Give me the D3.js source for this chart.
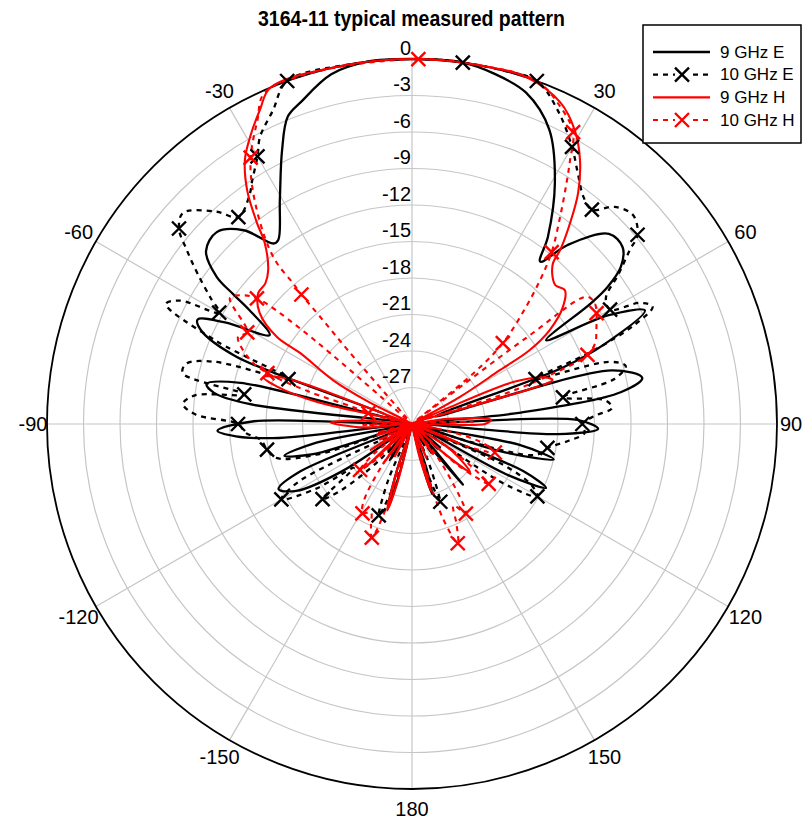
<!DOCTYPE html>
<html><head><meta charset="utf-8">
<script src="https://cdn.jsdelivr.net/npm/d3@7/dist/d3.min.js"></script>
<style>
body{margin:0;background:#fff}
text{font-family:"Liberation Sans",Arial,Helvetica,sans-serif;fill:#000}
</style></head>
<body><svg id="chart" width="804" height="824"></svg>
<script>
// ---------- data ----------
const chartTitle = "3164-11 typical measured pattern";
const seriesNames = ["9 GHz E", "10 GHz E", "9 GHz H", "10 GHz H"];
const angleTicks = [-150, -120, -90, -60, -30, 30, 60, 90, 120, 150, 180];
const spokeAngles = [-180, -150, -120, -90, -60, -30, 0, 30, 60, 90, 120, 150];
const radialTicks = [0, -3, -6, -9, -12, -15, -18, -21, -24, -27];

// [angle deg, level dB]
const e9 = [
[-180,-35],[-170,-33],[-166,-26],[-164,-22.7],[-162,-26],[-158,-35],
[-152,-28],[-148,-26.5],[-145,-35],[-140,-27],[-136,-35],
[-128,-31],[-124,-23],[-120,-19],[-116,-17.8],[-113,-20],[-110,-31],
[-107,-21.5],[-104,-19.2],[-101,-22],[-98,-32],
[-96,-19],[-94,-15.5],[-92,-14],[-89,-17],[-86,-30],
[-83,-16.5],[-81,-13.5],[-79,-12.8],[-76.5,-15.5],[-73,-28],
[-69,-14.5],[-66,-11],[-64,-10.4],[-61.5,-12.5],[-58,-16.2],
[-55,-13.7],[-54,-11.8],[-53,-9.9],[-50,-7.9],[-45.5,-7.5],[-41,-8.9],[-37.5,-11.3],[-36,-11.3],
[-30.5,-8.6],[-25.4,-5.1],[-22,-2.75],[-19,-2],[-13,-0.5],[-7,0],[0,0],[8,0],[13,-0.4],
[19,-1.2],[25,-3.3],[30.7,-7],[36,-11],[38.3,-13],[41,-10.5],[46,-7.5],[50,-7.4],[53,-8.5],[55,-10.4],[56,-12.3],[58,-17],
[61,-11.6],[64,-8.7],[67.5,-12.9],[69.5,-16.8],[72,-28],
[75,-13],[78.7,-10.7],[81.3,-12.6],[84,-21],[86,-31],
[88.6,-16.4],[91.5,-14.7],[94,-18],[97,-31],
[101,-21],[104,-18],[107,-22],[110,-32],
[113,-20],[115.5,-17.8],[118,-21],[121,-32],
[130,-27],[135,-34],[140,-23.5],[143,-34],[150,-28],[156,-34],[162,-26],[164,-24],[166,-27],[172,-34]
];
const e10 = [
[-180,-35],[-168,-34],[-164,-25],[-160,-22],[-157,-25],[-152,-34],
[-147,-27],[-144,-34],[-138,-26],[-133,-22],[-130,-20.4],[-127,-24],[-124,-20.5],[-120,-17.6],[-117,-19.5],[-113,-32],
[-108,-22],[-104,-18.5],[-100,-17.9],[-96,-17.5],[-93,-16.3],[-90,-15.7],[-87.5,-12.2],[-85,-11.1],[-82.5,-12],[-80,-16],
[-77.5,-10.7],[-75,-10.8],[-72.5,-13],[-70,-19.2],[-67,-12.5],[-64,-7.5],[-62,-8.4],[-60,-11.7],[-58,-10.5],[-55,-8.5],
[-52.3,-6.6],[-50,-5],[-47.3,-4.4],[-42.6,-6.3],[-40,-7.8],[-35,-6.8],[-33.6,-6.2],[-30,-4.6],[-27.9,-3.3],[-23.9,-1.8],
[-20,0],[-10,0],[0,0],[8,0],[14,0],[20,0],
[25,-1.6],[30,-3.7],[33.5,-5.3],[37,-6.6],[40,-7],[43,-5.6],[46.6,-5],[50,-5.8],[51.4,-7.1],[54,-9],[57,-11],[60,-11.2],
[62,-8.8],[64,-8],[66,-10],[68,-14],[70,-19.2],[72.5,-13],[74.8,-11.8],[77.5,-13],[80,-17.4],[83,-14],[85.4,-13.5],[87.5,-15],
[90,-16],[93,-15.8],[96,-17],[100,-18.7],[104,-19.5],[107,-25],[110,-33],
[114,-22],[117,-19],[120,-18.1],[123,-21],[127,-33],[134,-27],[139,-33],[146,-27],[150,-33],[156,-27],[160,-23.2],[163,-26],[168,-34]
];
const h9 = [
[-180,-35],[-170,-33],[-166,-25],[-164,-22.6],[-162,-26],[-158,-33],
[-152,-27],[-149,-33],[-144,-26],[-140,-33],[-133,-25],[-128,-33],
[-122,-26],[-117,-33],[-108,-27],[-102,-33],
[-94,-26],[-89,-23.3],[-86,-26],[-81,-33],
[-77,-22],[-74.5,-18.5],[-72.5,-17.2],[-70,-19],[-67,-30],
[-63,-26],[-61,-22.6],[-57.6,-19.1],[-57.2,-16.8],[-53.9,-14.5],[-49.6,-13.4],[-46.2,-13.3],[-43.1,-12.7],[-39.1,-10.8],
[-37.6,-9.1],[-35.2,-6.5],[-32.3,-4.3],[-29.4,-2.9],[-25.8,-1.3],[-22.8,0],[-10,0],[0,0],[10,0],[18.4,0],
[24.8,-0.9],[29,-2.4],[32.5,-4.3],[35.7,-6.6],[38.2,-9],[40.4,-11.2],[41.2,-12.4],[43.8,-13.3],[46,-13.6],[48.8,-13.3],
[52.2,-14.3],[55.7,-16.3],[57.9,-18.6],[58.5,-21.5],[60.6,-25.5],[63,-32],
[66,-27],[67.5,-21],[70.5,-18.5],[72.6,-17.9],[73.5,-20],[75,-30],
[82,-27],[87,-23.5],[90,-24],[93,-33],
[100,-28],[105,-33],[112,-26],[117,-33],[124,-26],[129.6,-23.8],[133,-27],[137,-33],[145,-27],[150,-33],[157,-27],[160,-33],[164,-24.2],[167,-27],[172,-34]
];
const h10 = [
[-180,-34],[-167,-32],[-163,-23],[-160.5,-20.1],[-158,-21],[-155,-22],[-151,-21.6],[-148,-22.5],[-144,-26],[-140,-32],
[-135,-26],[-131.5,-24.3],[-128,-26],[-123,-32],[-116,-27],[-111,-32],[-104,-27],[-99,-32],[-91,-26],[-86,-32],
[-78,-28],[-76,-26.3],[-74,-25],[-72.5,-21],[-70.6,-17.4],[-68.4,-15.7],[-63.4,-14],[-60.9,-14.5],[-55.3,-11.8],[-52.8,-12.5],
[-51,-13.6],[-49.5,-18],[-47,-30],[-42,-30],[-41,-22],[-40.6,-18.7],[-40.5,-16],[-40.2,-14.8],[-40,-12.7],[-38.2,-10.4],
[-34.2,-6.7],[-31.2,-4.4],[-27,-2],[-24,-0.2],[-15,0],[1,0],[10,0],[20,0],
[25,-1.2],[28.9,-2.6],[30.9,-4.7],[32.7,-6.5],[35.6,-9.1],[39.1,-11.8],[41.6,-14.1],[44.5,-16.8],[48.3,-20],[50.5,-23.5],
[52,-31],[52.5,-25],[53,-18],[54,-12.2],[56.5,-12],[59,-12.3],[63,-13],[66,-13.5],[68.5,-14.5],[70.5,-18],[72,-22],[74,-31],
[82,-29],[88,-25],[93,-32],[101,-27],[105,-24],[109,-22.8],[112,-25],[117,-32],[123,-26],[128,-22],[132,-25],[137,-32],
[143,-26],[149,-21.4],[153,-22.5],[156,-21],[159,-19.5],[162,-22],[166,-32]
];
// marker points on the 10 GHz traces
const e10Markers = [[8,0],[20,0],[30,-3.7],[40,-7],[50,-5.8],[60,-11.2],[70,-19.2],[80,-17.4],[90,-16],[100,-18.7],[120,-18.1],[160,-23.2],
[-20,0],[-30,-4.6],[-40,-7.8],[-50,-5],[-60,-11.7],[-70,-19.2],[-80,-16],[-90,-15.7],[-100,-17.9],[-120,-17.6],[-130,-20.4],[-160,-22]];
const h10Markers = [[1,0],[28.9,-2.6],[39.1,-11.8],[48.3,-20],[59,-12.3],[68.5,-14.5],[109,-22.8],[128,-22],[149,-21.4],[159,-19.5],
[-31.2,-4.4],[-40.5,-16],[-51,-13.6],[-60.9,-14.5],[-70.6,-17.4],[-76,-26.3],[-131.5,-24.3],[-151,-21.6],[-160.5,-20.1]];

// ---------- drawing ----------
const svg = d3.select("#chart");
const cx = 412, cy = 424, R = 365;
const rScale = d3.scaleLinear().domain([-30, 0]).range([0, R]).clamp(true);
const aScale = d3.scaleLinear().domain([-180, 180]).range([-Math.PI, Math.PI]);
const g = svg.append("g").attr("transform", `translate(${cx},${cy})`);

// grid rings
g.selectAll("circle.ring").data(radialTicks.filter(v => v !== 0)).join("circle")
  .attr("r", d => rScale(d)).attr("fill", "none").attr("stroke", "#c6c6c6").attr("stroke-width", 1.2);
// spokes
g.selectAll("line.spoke").data(spokeAngles).join("line")
  .attr("x1", 0).attr("y1", 0)
  .attr("x2", d => d3.pointRadial(aScale(d), R)[0])
  .attr("y2", d => d3.pointRadial(aScale(d), R)[1])
  .attr("stroke", "#c6c6c6").attr("stroke-width", 1.2);
// outer circle
g.append("circle").attr("r", rScale(0)).attr("fill", "none").attr("stroke", "#000").attr("stroke-width", 1.8);

// traces
const line = d3.lineRadial()
  .angle(d => aScale(d[0])).radius(d => rScale(d[1]))
  .curve(d3.curveCatmullRomClosed.alpha(0.5));
const series = [
  {data: e9, color: "#000", dash: null, w: 2.3},
  {data: e10, color: "#000", dash: "5,5", w: 2.3},
  {data: h9, color: "#f00", dash: null, w: 2.1},
  {data: h10, color: "#f00", dash: "5,5", w: 2.1}
];
series.forEach(s => {
  g.append("path").attr("d", line(s.data)).attr("fill", "none")
   .attr("stroke", s.color).attr("stroke-width", s.w)
   .attr("stroke-dasharray", s.dash).attr("stroke-linejoin", "round");
});
const xPath = "M-7,-7L7,7M-7,7L7,-7";
function drawMarkers(pts, color) {
  g.selectAll(null).data(pts).join("path")
   .attr("d", xPath)
   .attr("transform", d => { const p = d3.pointRadial(aScale(d[0]), rScale(d[1])); return `translate(${p[0]},${p[1]})`; })
   .attr("stroke", color).attr("stroke-width", 2.4).attr("fill", "none");
}
drawMarkers(e10Markers, "#000");
drawMarkers(h10Markers, "#f00");

// radial labels
g.selectAll("text.rl").data(radialTicks).join("text")
  .attr("x", -1).attr("y", d => -rScale(d) - 11.5)
  .attr("text-anchor", "end").attr("dominant-baseline", "central")
  .attr("font-size", 20).text(d => d);
// angle labels
const labR = d => (Math.abs(d) === 90 ? 379 : 385);
g.selectAll("text.al").data(angleTicks).join("text")
  .attr("x", d => d3.pointRadial(aScale(d), labR(d))[0])
  .attr("y", d => d3.pointRadial(aScale(d), labR(d))[1])
  .attr("text-anchor", "middle").attr("dominant-baseline", "central")
  .attr("font-size", 20).text(d => d);

// title
svg.append("text").attr("x", 411.5).attr("y", 26).attr("text-anchor", "middle")
  .attr("font-size", 22).attr("font-weight", "bold")
  .attr("textLength", 307).attr("lengthAdjust", "spacingAndGlyphs")
  .text(chartTitle);

// legend
const lg = svg.append("g");
lg.append("rect").attr("x", 643).attr("y", 25).attr("width", 158).attr("height", 118)
  .attr("fill", "#fff").attr("stroke", "#000").attr("stroke-width", 1.5);
const legY = d3.scalePoint().domain(seriesNames).range([52, 120]);
seriesNames.forEach((n, i) => {
  const s = series[i], y = legY(n);
  lg.append("line").attr("x1", 653).attr("x2", 710).attr("y1", y).attr("y2", y)
    .attr("stroke", s.color).attr("stroke-width", s.w).attr("stroke-dasharray", s.dash);
  if (s.dash) {
    lg.append("rect").attr("x", 675).attr("y", y - 8).attr("width", 15).attr("height", 16).attr("fill", "#fff");
    lg.append("path").attr("d", xPath).attr("transform", `translate(682,${y})`)
      .attr("stroke", s.color).attr("stroke-width", 2.4).attr("fill", "none");
  }
  lg.append("text").attr("x", 720).attr("y", y).attr("dominant-baseline", "central")
    .attr("font-size", 17).text(n);
});
</script></body></html>
